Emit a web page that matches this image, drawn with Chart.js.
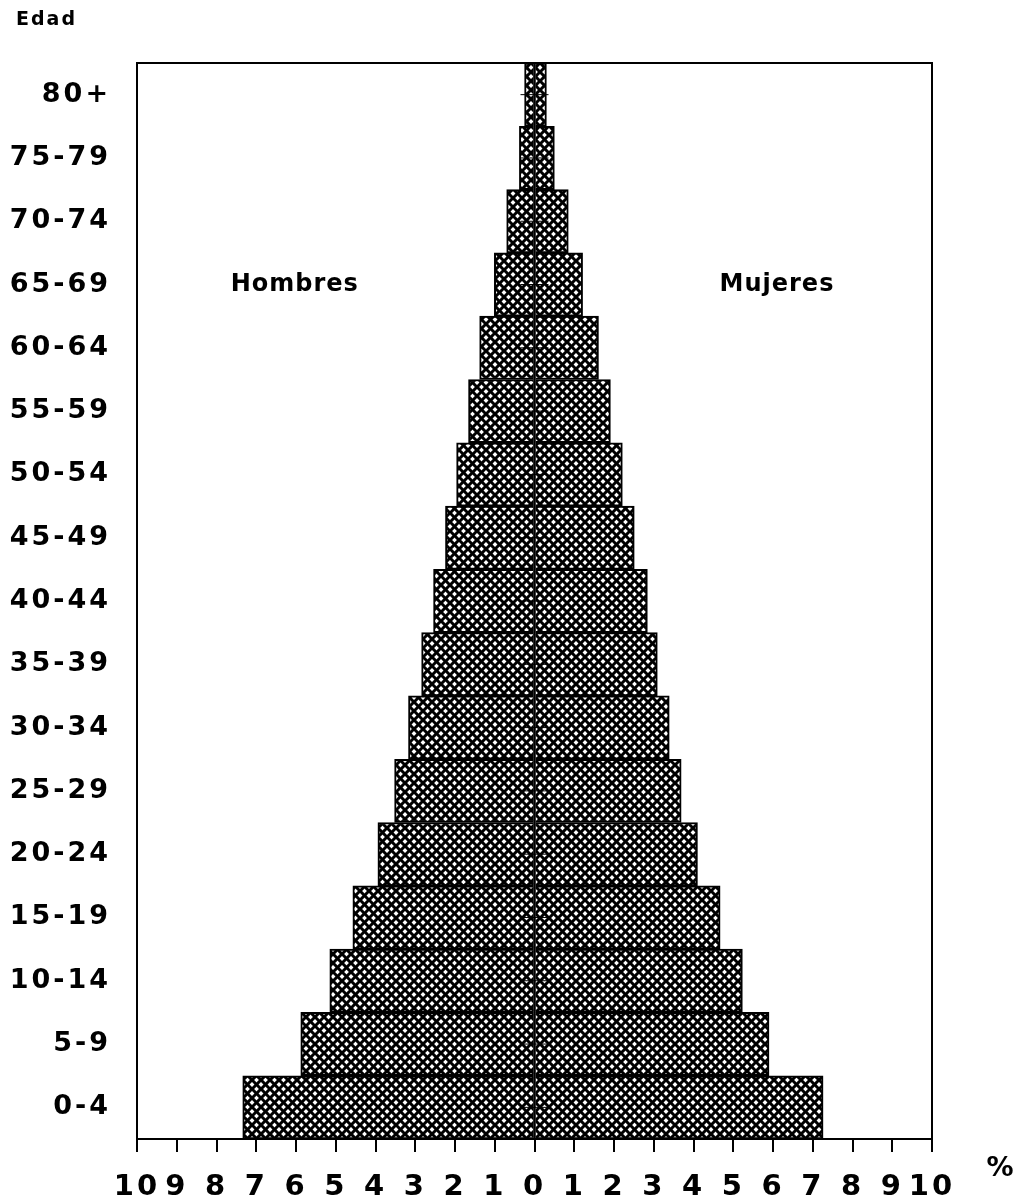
<!DOCTYPE html>
<html>
<head>
<meta charset="utf-8">
<script src="https://cdn.jsdelivr.net/npm/chart.js@4.4.1/dist/chart.umd.min.js"></script>
<style>
  html, body { margin: 0; padding: 0; background: #fff; }
  #wrap { width: 1016px; height: 1203px; }
</style>
</head>
<body>
<div id="wrap"><canvas id="pyramid" width="1016" height="1203"></canvas></div>
<script>
// grupos de edad, de abajo hacia arriba
const ageGroups = ['0-4', '5-9', '10-14', '15-19', '20-24', '25-29', '30-34', '35-39',
  '40-44', '45-49', '50-54', '55-59', '60-64', '65-69', '70-74', '75-79', '80+']

// porcentaje de la poblacion
const hombres = [7.34, 5.88, 5.15, 4.57, 3.94, 3.52, 3.17, 2.84, 2.54, 2.24, 1.96, 1.66, 1.38, 1.01, 0.70, 0.38, 0.25]
const mujeres = [7.26, 5.90, 5.23, 4.67, 4.10, 3.69, 3.39, 3.09, 2.84, 2.51, 2.21, 1.91, 1.61, 1.21, 0.85, 0.50, 0.30]

const xMin = -10
const xMax = 10

const FONT = '"DejaVu Sans", "Liberation Sans", sans-serif'

// trama cruzada para las barras
const makeHatch = () => {
  const s = 9
  const c = document.createElement('canvas')
  c.width = s
  c.height = s
  const g = c.getContext('2d')
  g.fillStyle = '#fff'
  g.fillRect(0, 0, s, s)
  g.strokeStyle = '#000'
  g.lineWidth = 3
  for (let k = -1; k <= 1; k++) {
    g.beginPath()
    g.moveTo(-1, -1 + k * s)
    g.lineTo(s + 1, s + 1 + k * s)
    g.stroke()
    g.beginPath()
    g.moveTo(-1, s + 1 + k * s)
    g.lineTo(s + 1, -1 + k * s)
    g.stroke()
  }
  return g.createPattern(c, 'repeat')
}

const decoPlugin = {
  id: 'deco',
  beforeDraw(chart) {
    chart.ctx.letterSpacing = '3px'
  },
  afterDatasetsDraw(chart) {
    const { ctx, chartArea: a, scales: { x, y } } = chart
    ctx.save()
    ctx.strokeStyle = '#000'
    ctx.lineWidth = 2
    ctx.strokeRect(a.left, a.top, a.right - a.left, a.bottom - a.top)

    // eje cero
    const x0 = x.getPixelForValue(0)
    ctx.lineWidth = 2.5
    ctx.beginPath()
    ctx.moveTo(x0, a.top)
    ctx.lineTo(x0, a.bottom)
    ctx.stroke()

    // marcas sobre el eje cero
    ctx.lineWidth = 1
    ageGroups.forEach((g, i) => {
      const py = y.getPixelForValue(i)
      ctx.beginPath()
      ctx.moveTo(x0 - 14, py)
      ctx.lineTo(x0 + 14, py)
      ctx.stroke()
    })

    ctx.fillStyle = '#000'
    ctx.textBaseline = 'middle'
    ctx.textAlign = 'center'
    ctx.font = `bold 24px ${FONT}`
    ctx.letterSpacing = '1px'
    const row = ageGroups.indexOf('65-69')
    ctx.fillText('Hombres', x.getPixelForValue(-6.03), y.getPixelForValue(row))
    ctx.fillText('Mujeres', x.getPixelForValue(6.1), y.getPixelForValue(row))

    ctx.textAlign = 'left'
    ctx.font = `bold 19px ${FONT}`
    ctx.letterSpacing = '2px'
    ctx.fillText('Edad', 16, 20)

    ctx.textAlign = 'center'
    ctx.font = `bold 27px ${FONT}`
    ctx.letterSpacing = '0px'
    ctx.fillText('%', x.right + 68, 1169)
    ctx.restore()
  }
}

const initChart = () => {
  const ctx = document.getElementById('pyramid').getContext('2d')
  const hatch = makeHatch()

  const barStyle = {
    backgroundColor: hatch,
    borderColor: '#000',
    borderWidth: 2,
    borderSkipped: 'start',
    categoryPercentage: 1,
    barPercentage: 1
  }

  let scales_chart = {
    x: {
      type: 'linear',
      min: xMin,
      max: xMax,
      stacked: true,
      afterFit: (scale) => { scale.height = 64 },
      border: { display: false },
      grid: {
        drawOnChartArea: false,
        drawTicks: true,
        tickLength: 13,
        color: '#000',
        lineWidth: 2
      },
      ticks: {
        stepSize: 1,
        autoSkip: false,
        maxRotation: 0,
        padding: 18,
        color: '#000',
        font: { family: FONT, size: 29, weight: 'bold' },
        callback: (value) => Math.abs(value)
      }
    },
    y: {
      type: 'category',
      labels: ageGroups,
      reverse: true,
      stacked: true,
      afterFit: (scale) => { scale.width = 137 },
      border: { display: false },
      grid: { display: false, drawTicks: false },
      ticks: {
        padding: 26,
        color: '#000',
        font: { family: FONT, size: 27, weight: 'bold' }
      }
    }
  }

  chart = new Chart(ctx, {
    type: 'bar',
    data: {
      labels: ageGroups,
      datasets: [
        { label: 'Hombres', data: hombres.map(v => -v), ...barStyle },
        { label: 'Mujeres', data: mujeres, ...barStyle }
      ]
    },
    options: {
      indexAxis: 'y',
      responsive: false,
      animation: false,
      layout: { padding: { top: 63, right: 84, left: 0, bottom: 0 } },
      plugins: {
        legend: { display: false },
        tooltip: { enabled: false },
        title: { display: false }
      },
      scales: scales_chart
    },
    plugins: [decoPlugin]
  })
}

let chart
initChart()
</script>
</body>
</html>
